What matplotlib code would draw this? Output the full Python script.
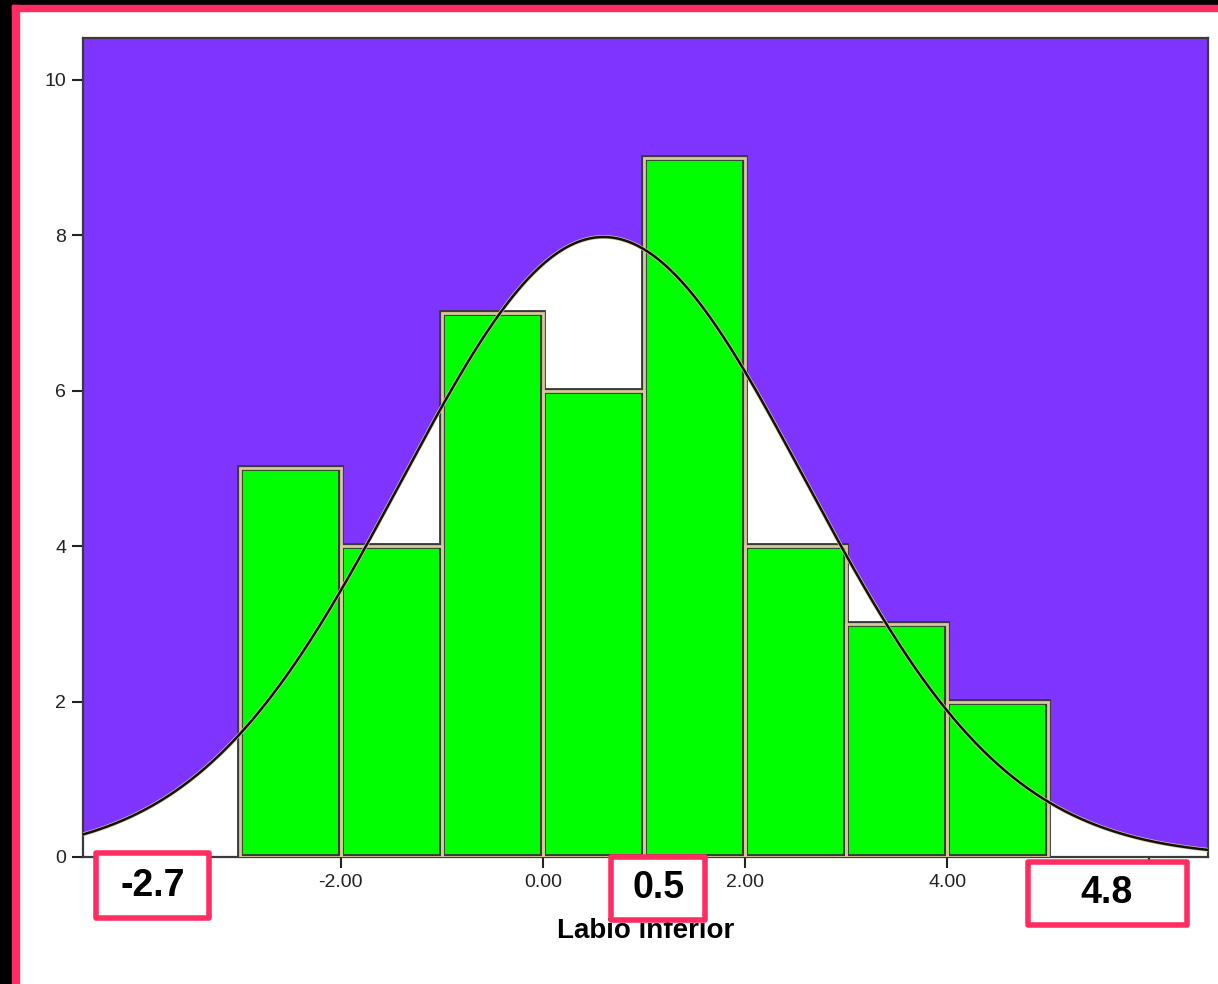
import matplotlib
matplotlib.use('Agg')
import matplotlib.pyplot as plt
import matplotlib.patheffects as pe
from matplotlib.patches import Rectangle
import numpy as np

# Histogram data (bin edges, counts) and normal curve parameters
bin_left = [-3, -2, -1, 0, 1, 2, 3, 4]
counts = [5, 4, 7, 6, 9, 4, 3, 2]
bin_width = 1.0
curve_mean = 0.6
curve_sd = 2.0

# outer tick labels are hidden under the pink boxes in the original
x_ticks = [-4, -2, 0, 2, 4, 6]
x_tick_labels = ["", "-2.00", "0.00", "2.00", "4.00", ""]
y_ticks = [0, 2, 4, 6, 8, 10]

# Highlighted values in pink boxes (text centre, box extents in data units)
box_values = ["-2.7", "0.5", "4.8"]
box_text_x = [-3.86, 1.14, 5.58]
box_text_y = [-0.37, -0.40, -0.46]
box_x0 = [-4.42, 0.67, 4.80]
box_x1 = [-3.30, 1.60, 6.37]
box_y0 = [-0.79, -0.81, -0.88]
box_y1 = [0.05, 0.0, -0.06]

purple = "#7f35ff"
green = "#00ff00"
beige = "#d8c99a"
pink = "#ff2d62"

plt.rcParams['font.family'] = ['Liberation Sans', 'DejaVu Sans']

fig = plt.figure(figsize=(12.18, 9.84), dpi=100, facecolor="white")

# Screenshot frame: black strip then pink border on left and top
fig.patches.append(Rectangle((0, 0), 0.0099, 1, transform=fig.transFigure,
                             color="black", zorder=0))
fig.patches.append(Rectangle((0, 1 - 0.0051), 1, 0.0051, transform=fig.transFigure,
                             color="black", zorder=0))
fig.patches.append(Rectangle((0.0099, 0), 0.0058, 1 - 0.0051, transform=fig.transFigure,
                             color=pink, zorder=0))
fig.patches.append(Rectangle((0.0099, 1 - 0.0112), 1, 0.0061, transform=fig.transFigure,
                             color=pink, zorder=0))

ax = fig.add_axes([0.0681, 0.1291, 0.9237, 0.8323])
ax.set_facecolor("white")

xmin, xmax = -4.55, 6.58
ymin, ymax = 0, 10.54

# Normal curve scaled to counts
xs = np.linspace(xmin, xmax, 600)
total = sum(counts)
ys = total * bin_width / (curve_sd * np.sqrt(2 * np.pi)) * np.exp(-0.5 * ((xs - curve_mean) / curve_sd) ** 2)

# Purple above the curve
ax.fill_between(xs, ys, ymax, color=purple, linewidth=0, zorder=1)

# Bars: dark outline with beige inner border
ax.bar(bin_left, counts, width=bin_width, align="edge", color=green,
       edgecolor="#3a3a3a", linewidth=4.2, zorder=2)
ax.bar(bin_left, counts, width=bin_width, align="edge", color="none",
       edgecolor=beige, linewidth=2.0, zorder=3)

ax.plot(xs, ys, color="#111111", linewidth=1.8, zorder=4,
        path_effects=[pe.Stroke(linewidth=2.8, foreground=beige), pe.Normal()])

ax.set_xlim(xmin, xmax)
ax.set_ylim(ymin, ymax)
ax.set_xticks(x_ticks)
ax.set_xticklabels(x_tick_labels, fontsize=14, color="#222222")
ax.set_yticks(y_ticks)
ax.set_yticklabels([str(v) for v in y_ticks], fontsize=14, color="#222222")
ax.tick_params(direction="out", length=8, width=1.5, color="#222222", pad=4)

for s in ax.spines.values():
    s.set_color("#3a3a3a")
    s.set_linewidth(1.6)

ax.set_xlabel("Labio inferior", fontsize=20, fontweight="bold", labelpad=20)

# Pink boxes over the axis
for val, tx, ty, x0, x1, y0, y1 in zip(box_values, box_text_x, box_text_y,
                                        box_x0, box_x1, box_y0, box_y1):
    ax.add_patch(Rectangle((x0, y0), x1 - x0, y1 - y0, facecolor="white",
                           edgecolor=pink, linewidth=4, zorder=9, clip_on=False,
                           joinstyle="round"))
    ax.text(tx, ty, val, fontsize=27, fontweight="bold", ha="center", va="center",
            zorder=10, clip_on=False)

plt.savefig("out.png", dpi=100, facecolor="white")
plt.close()
